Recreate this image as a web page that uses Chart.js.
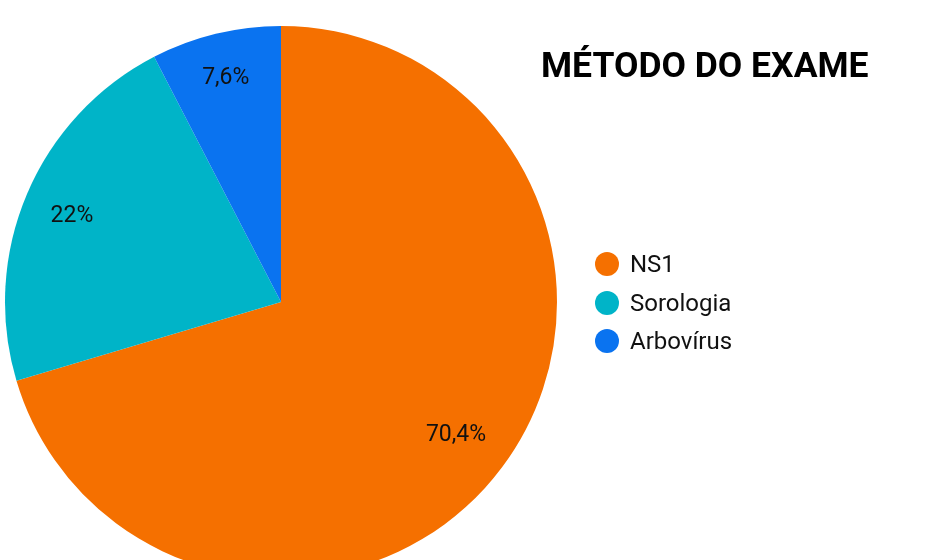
<!DOCTYPE html>
<html>
<head>
<meta charset="utf-8">
<script src="https://cdn.jsdelivr.net/npm/chart.js@4/dist/chart.umd.min.js"></script>
<style>
  html, body { margin: 0; padding: 0; background: #fff; }
  #wrap { position: relative; width: 930px; height: 560px; overflow: hidden; font-family: Roboto, sans-serif; }
  #chart { position: absolute; left: 0; top: 0; }
  #titulo { position: absolute; left: 541px; top: 44px; font-size: 35.5px; font-weight: 700; color: #000; white-space: nowrap; }
  #leyenda { position: absolute; left: 595px; top: 245px; }
  .item { display: flex; align-items: center; height: 38.5px; font-size: 24px; color: #111; }
  .dot { width: 24px; height: 24px; border-radius: 50%; margin-right: 11px; }
</style>
</head>
<body>
<div id="wrap">
  <canvas id="chart" width="930" height="604"></canvas>
  <div id="titulo">MÉTODO DO EXAME</div>
  <div id="leyenda"></div>
</div>
<script>
// datos
const categorias = ['NS1', 'Sorologia', 'Arbovírus'];
const valores = [70.4, 22, 7.6];
const etiquetas = ['70,4%', '22%', '7,6%'];
const colores = ['#F57000', '#00B4C8', '#0A73F0'];

// leyenda html
const ley = document.getElementById('leyenda');
categorias.forEach((c, i) => {
  const d = document.createElement('div');
  d.className = 'item';
  d.innerHTML = `<span class="dot" style="background:${colores[i]}"></span>${c}`;
  ley.appendChild(d);
});

// textos dentro de cada sector (fraccion del radio por sector)
const etiquetasPlugin = {
  id: 'etiquetas',
  afterDatasetsDraw(chart) {
    const ctx = chart.ctx;
    const meta = chart.getDatasetMeta(0);
    const frac = [0.791, 0.823, 0.846];
    ctx.save();
    ctx.font = '23px Roboto, sans-serif';
    ctx.fillStyle = '#111';
    ctx.textAlign = 'center';
    ctx.textBaseline = 'middle';
    meta.data.forEach((arc, i) => {
      const mid = (arc.startAngle + arc.endAngle) / 2;
      const r = arc.outerRadius * frac[i];
      ctx.fillText(etiquetas[i], arc.x + Math.cos(mid) * r, arc.y + Math.sin(mid) * r + 3);
    });
    ctx.restore();
  }
};

new Chart(document.getElementById('chart'), {
  type: 'pie',
  data: {
    labels: categorias,
    datasets: [{
      data: valores,
      backgroundColor: colores,
      borderWidth: 0
    }]
  },
  options: {
    responsive: false,
    animation: false,
    layout: { padding: { left: 5, top: 26, right: 373, bottom: 26 } },
    plugins: {
      legend: { display: false },
      tooltip: { enabled: false }
    }
  },
  plugins: [etiquetasPlugin]
});
</script>
</body>
</html>
